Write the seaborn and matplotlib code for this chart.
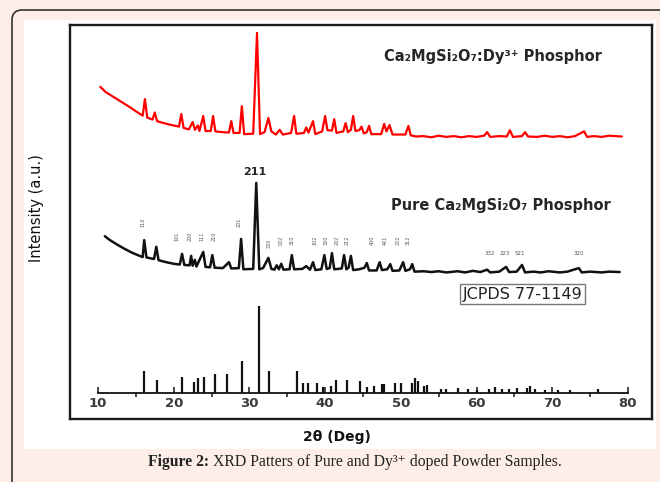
import numpy as np
import pandas as pd
import seaborn as sns
import matplotlib.pyplot as plt
from matplotlib.patches import FancyBboxPatch, Rectangle

# ---- data ----
# Dy doped sample (red), 2theta vs intensity (a.u., offset up)
red_2theta = [10.3, 11.0, 12.0, 13.0, 14.0, 15.0, 15.9, 16.2, 16.5, 17.2, 17.5, 17.8, 18.5, 19.5,
              20.7, 21.0, 21.3, 22.0, 22.5, 22.8, 23.2, 23.4, 23.9, 24.2, 24.9, 25.2, 25.5, 26.5,
              27.3, 27.6, 27.9, 28.7, 29.0, 29.3, 30.5, 31.0, 31.4, 32.0, 32.5, 32.9, 33.5, 34.0,
              34.4, 35.5, 35.9, 36.2, 37.2, 37.5, 37.8, 38.4, 38.7, 39.6, 40.0, 40.3, 40.9, 41.2,
              41.5, 42.4, 42.7, 43.0, 43.4, 43.7, 44.0, 44.5, 44.8, 45.1, 45.5, 45.8, 46.1, 47.4,
              47.8, 48.1, 48.5, 48.9, 50.6, 51.0, 51.3, 52.0, 53.0, 54.0, 55.0, 56.0, 57.0, 58.0,
              59.0, 60.0, 61.0, 61.4, 61.8, 63.0, 64.0, 64.4, 64.8, 66.0, 66.4, 66.8, 68.0, 69.0,
              70.0, 71.0, 72.0, 73.0, 74.2, 74.6, 75.5, 76.5, 77.5, 79.2]
red_int = [843, 830, 818, 806, 794, 781, 770, 812, 765, 760, 778, 756, 752, 747,
           742, 774, 739, 735, 754, 734, 745, 731, 769, 731, 731, 769, 730, 728,
           727, 756, 726, 726, 794, 723, 724, 980, 723, 728, 764, 730, 722, 734,
           722, 726, 769, 724, 726, 740, 727, 756, 723, 730, 769, 733, 732, 761,
           726, 730, 751, 728, 734, 769, 731, 733, 742, 725, 728, 744, 723, 723,
           749, 730, 746, 722, 722, 744, 720, 717, 718, 715, 719, 716, 718, 715,
           718, 716, 719, 728, 716, 718, 717, 733, 716, 718, 728, 717, 716, 719,
           716, 718, 715, 718, 730, 716, 718, 716, 719, 717]

# pure sample (black)
blk_2theta = [10.9, 11.5, 12.5, 13.5, 14.5, 15.5, 15.9, 16.1, 16.4, 17.4, 17.7, 18.0, 19.0, 20.0,
              20.8, 21.1, 21.4, 22.1, 22.3, 22.5, 22.8, 23.0, 23.9, 24.2, 24.8, 25.1, 25.4, 26.5,
              27.3, 27.6, 28.6, 28.9, 29.2, 30.5, 30.9, 31.3, 31.8, 32.5, 32.9, 33.3, 33.6, 33.9,
              34.2, 34.5, 35.3, 35.6, 35.9, 37.0, 37.5, 38.0, 38.4, 38.7, 39.5, 39.9, 40.2, 40.6,
              40.9, 41.2, 42.2, 42.5, 42.8, 43.1, 43.4, 43.7, 44.5, 45.2, 45.5, 45.8, 46.8, 47.2,
              47.5, 48.2, 48.6, 48.9, 49.8, 50.3, 50.6, 51.2, 51.5, 51.8, 53.0, 54.0, 55.0, 56.0,
              57.5, 58.5, 59.5, 60.5, 61.4, 61.8, 63.0, 63.9, 64.3, 65.3, 66.0, 66.4, 67.5, 68.5,
              69.5, 71.0, 72.0, 73.5, 73.9, 75.0, 76.5, 77.5, 78.9]
blk_int = [464, 455, 443, 432, 422, 414, 411, 454, 410, 406, 437, 403, 398, 394,
           392, 419, 391, 390, 414, 389, 404, 387, 424, 386, 385, 416, 384, 383,
           398, 382, 383, 457, 380, 381, 599, 380, 383, 409, 381, 379, 390, 380,
           394, 379, 380, 416, 380, 381, 388, 379, 398, 378, 380, 416, 381, 383,
           421, 380, 382, 416, 380, 384, 414, 378, 380, 384, 396, 377, 377, 398,
           378, 380, 393, 376, 377, 398, 376, 380, 393, 374, 375, 373, 375, 372,
           375, 372, 376, 373, 379, 372, 374, 386, 373, 374, 391, 372, 374, 372,
           375, 372, 374, 383, 372, 374, 372, 374, 373]

# JCPDS 77-1149 reference lines (relative intensity)
jcpds_2theta = [16.06, 17.8, 21.1, 22.7, 23.2, 24.0, 25.4, 27.1, 29.0, 31.2, 32.6, 36.3, 37.1,
                37.8, 38.9, 39.7, 40.8, 41.5, 42.9, 44.6, 45.5, 46.4, 47.5, 47.8, 49.2, 50.0,
                51.5, 51.9, 52.2, 53.1, 53.5, 55.3, 56.0, 57.5, 58.9, 60.0, 61.7, 62.4, 63.4,
                64.3, 65.3, 66.6, 67.0, 67.7, 69.0, 70.7, 72.4, 76.0]
jcpds_int = [25, 15, 18, 13, 17, 18, 22, 22, 37, 100, 25, 25, 11,
             11, 12, 7, 8, 15, 15, 14, 7, 8, 10, 10, 11, 12,
             11, 17, 14, 8, 9, 5, 5, 6, 5, 4, 5, 7, 5,
             5, 6, 6, 8, 5, 4, 4, 4, 5]

# hkl labels over the pure pattern
hkl_labels = ['110', '101', '200', '111', '210', '201', '220', '002', '310',
              '102', '320', '202', '212', '400', '401', '222', '312']
hkl_2theta = [15.9, 20.4, 22.2, 23.7, 25.3, 28.6, 32.6, 34.2, 35.6,
              38.7, 40.1, 41.6, 42.9, 46.2, 47.9, 49.6, 51.0]
hkl_y = [500, 464, 464, 464, 464, 500, 447, 454, 454,
         454, 454, 454, 454, 454, 454, 454, 454]
hi_labels = ['332', '223', '521', '320']
hi_2theta = [61.8, 63.8, 65.7, 73.5]

red = pd.DataFrame({'2theta': red_2theta, 'I': red_int})
blk = pd.DataFrame({'2theta': blk_2theta, 'I': blk_int})

sns.set_style('white')
plt.rcParams['font.family'] = ['DejaVu Sans']

W, H = 660, 482
fig = plt.figure(figsize=(W / 100, H / 100), dpi=100)
fig.patch.set_facecolor('#fdeee8')

# card background, drawn in pixel units
bg = fig.add_axes([0, 0, 1, 1], zorder=-5)
bg.set_xlim(0, W)
bg.set_ylim(H, 0)
bg.axis('off')
bg.add_patch(FancyBboxPatch((12, 10), 720, 520, boxstyle='round,pad=0,rounding_size=10',
                            fc='#fdeee8', ec='#333333', lw=1.2))
bg.add_patch(Rectangle((24, 20), 632, 429, fc='white', ec='none'))

# main frame with the two measured patterns
ax = fig.add_axes([70 / W, 1 - 419 / H, 582 / W, 394 / H])
ax.set_xlim(10 - 28 / 7.571, 80 + 24 / 7.571)
ax.set_ylim(0, 1000)
ax.set_xticks([])
ax.set_yticks([])
for s in ax.spines.values():
    s.set_linewidth(1.7)
    s.set_color('#1a1a1a')

sns.lineplot(data=red, x='2theta', y='I', ax=ax, color='#ff0000', lw=1.6,
             sort=False, estimator=None)
sns.lineplot(data=blk, x='2theta', y='I', ax=ax, color='#111111', lw=1.8,
             sort=False, estimator=None)
ax.set_xlabel('')
ax.set_ylabel('')

ax.text(62.2, 919, 'Ca₂MgSi₂O₇:Dy³⁺ Phosphor', ha='center', va='center',
        fontsize=10.5, fontweight='bold')
ax.text(63.2, 543, 'Pure Ca₂MgSi₂O₇ Phosphor', ha='center', va='center',
        fontsize=10.5, fontweight='bold')
ax.text(30.7, 627, '211', ha='center', va='center', fontsize=8, fontweight='bold')
for lab, x, y in zip(hkl_labels, hkl_2theta, hkl_y):
    ax.text(x, y, lab, ha='center', va='center', rotation=90, fontsize=3.5, color='#555555')
for lab, x in zip(hi_labels, hi_2theta):
    ax.text(x, 421, lab, ha='center', va='center', fontsize=4, color='#555555')

# JCPDS stick pattern
ax2 = fig.add_axes([98 / W, 1 - 393 / H, 530 / W, 110 / H])
ax2.patch.set_alpha(0)
ax2.vlines(jcpds_2theta, 0, jcpds_int, color='#111111', lw=1.6)
ax2.set_xlim(10, 80)
ax2.set_ylim(0, 110 / 0.867)
ax2.set_yticks([])
ax2.set_xticks(range(10, 81, 10))
ax2.set_xticks(range(15, 80, 10), minor=True)
for s in ['top', 'left', 'right']:
    ax2.spines[s].set_visible(False)
ax2.spines['bottom'].set_linewidth(1.3)
ax2.spines['bottom'].set_color('#111111')
ax2.tick_params(axis='x', which='major', direction='in', length=4, width=1.2,
                labelsize=9.5, labelcolor='#3a3a3a', pad=3, bottom=True)
ax2.tick_params(axis='x', which='minor', direction='out', length=3, width=1.2, bottom=True)
for lbl in ax2.get_xticklabels():
    lbl.set_fontweight('bold')
ax2.text(66.1, 114, 'JCPDS 77-1149', ha='center', va='center', fontsize=11.5,
         color='#222222',
         bbox=dict(boxstyle='square,pad=0.15', fc='white', ec='#777777', lw=1))

fig.text(37 / W, 1 - 208 / H, 'Intensity (a.u.)', rotation=90, ha='center', va='center',
         fontsize=10.5, color='#111111')
fig.text(337 / W, 1 - 437 / H, '2θ (Deg)', ha='center', va='center', fontsize=10,
         fontweight='bold', color='#111111')

# caption: bold part + regular part, centred together
cap_font = ['Liberation Serif', 'DejaVu Serif']
r = fig.canvas.get_renderer()
t1 = fig.text(0, 1 - 462 / H, 'Figure 2:', family=cap_font, fontweight='bold',
              fontsize=11.3, color='#222222', va='center')
t2 = fig.text(0, 1 - 462 / H, ' XRD Patters of Pure and Dy³⁺ doped Powder Samples.',
              family=cap_font, fontsize=11.3, color='#222222', va='center')
w1 = t1.get_window_extent(r).width
w2 = t2.get_window_extent(r).width
x0 = 355 - (w1 + w2) / 2
t1.set_x(x0 / W)
t2.set_x((x0 + w1) / W)

fig.savefig('out.png', dpi=100, facecolor=fig.get_facecolor())
